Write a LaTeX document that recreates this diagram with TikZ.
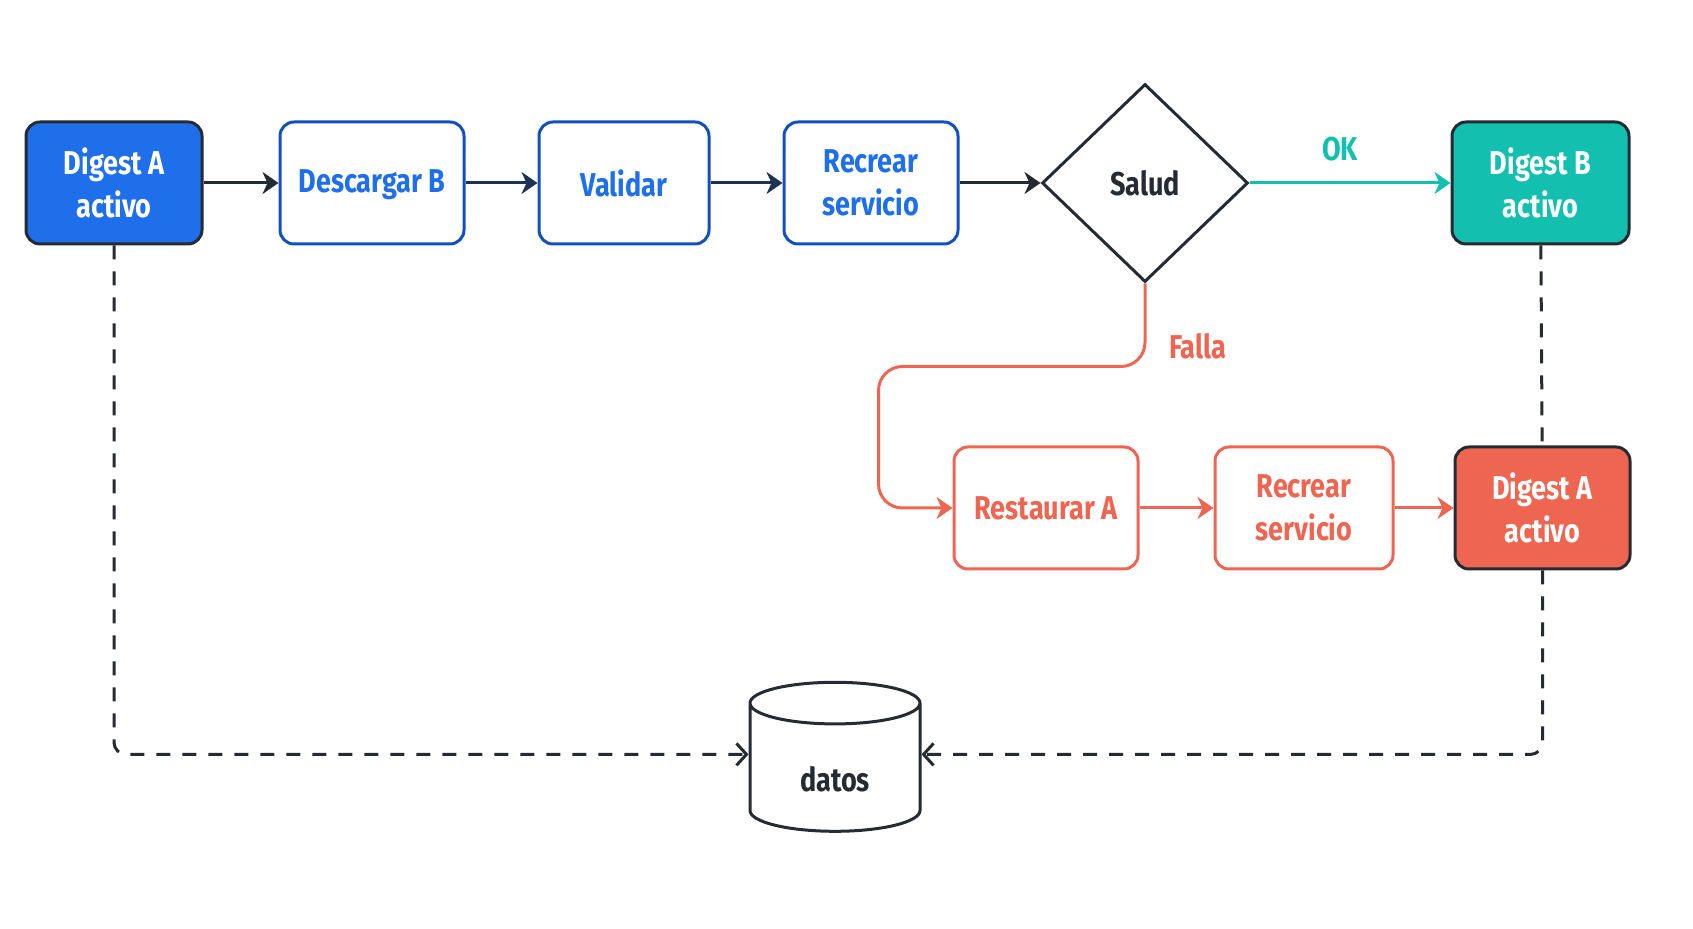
\documentclass[tikz,border=0pt]{standalone}
\usepackage{fontspec}
\setmainfont{Fira Sans}[FakeStretch=0.82]
\usetikzlibrary{arrows.meta,positioning,calc,shapes.geometric}
\definecolor{ink}{HTML}{252B33}
\definecolor{navy}{HTML}{1E3354}
\definecolor{azul}{HTML}{1F6FEB}
\definecolor{azulD}{HTML}{1250C0}
\definecolor{verde}{HTML}{13BFAF}
\definecolor{rojo}{HTML}{EE6651}

\begin{document}
\begin{tikzpicture}[node distance=37.5pt,>=Stealth,
font=\fontsize{16.5}{21.5}\selectfont\bfseries,
box/.style={draw,rounded corners=7pt,align=center,minimum height=61pt,line width=1.5pt,inner sep=2pt},
paso/.style={box,draw=azulD,text=azul,fill=white},
rpaso/.style={box,draw=rojo,text=rojo,fill=white},
flujo/.style={line width=1.5pt,draw=ink,-{Stealth[length=8pt,width=11pt,inset=2.5pt]}},
enlace/.style={line width=1.5pt,draw=ink,dash pattern=on 7pt off 6pt,rounded corners=6pt,-{Straight Barb[length=5pt,width=11pt]}}]
\useasboundingbox (0,0) rectangle (846.5pt,-464.5pt);
\node[box,fill=azul,draw=ink,text=white,minimum width=88pt] (dA) at (57pt,-91.5pt) {Digest A\\activo};
\node[paso,minimum width=92pt,right=37.5pt of dA,text depth=2pt] (desc) {Descargar B};
\node[paso,minimum width=85pt,right=36pt of desc] (val) {Validar};
\node[paso,minimum width=87pt,right=36pt of val] (rec) {Recrear\\servicio};
\node[diamond,draw=ink,line width=1.5pt,text=ink,minimum width=103pt,minimum height=99pt,inner sep=0pt,right=40.5pt of rec] (sal) {Salud};
\node[box,fill=verde,draw=ink,text=white,minimum width=88.5pt,right=100.5pt of sal] (dB) {Digest B\\activo};
\node[rpaso,minimum width=92pt] (rst) at (523pt,-254pt) {Restaurar A};
\node[rpaso,minimum width=89pt,right=37pt of rst] (rec2) {Recrear\\servicio};
\node[box,fill=rojo,draw=ink,text=white,minimum width=87.5pt,right=29.5pt of rec2] (dAr) {Digest A\\activo};
\node[cylinder,shape border rotate=90,aspect=0.5,draw=ink,line width=1.5pt,text=ink,minimum width=85pt,minimum height=74.5pt,text height=20pt,text depth=0pt] (datos) at (417.5pt,-386pt) {datos};
\draw[flujo] (dA) -- (desc);
\draw[flujo,draw=navy] (desc) -- (val);
\draw[flujo,draw=navy] (val) -- (rec);
\draw[flujo] (rec) -- (sal);
\draw[flujo,draw=verde] (sal) -- (dB) node[pos=0.45,above=7pt,text=verde] (ok) {OK};
\draw[flujo,draw=rojo,rounded corners=12pt] (sal.south) -- ++(0,-41.5pt) node[pos=0.76,right=8pt,text=rojo] (falla) {Falla} -| ([xshift=-37pt]rst.west) -- (rst.west);
\draw[flujo,draw=rojo] (rst) -- (rec2);
\draw[flujo,draw=rojo] (rec2) -- (dAr);
\draw[enlace] (dA.south) |- ([yshift=8.8pt]datos.west);
\draw[enlace,-] (dB) -- (dAr);
\draw[enlace] (dAr.south) |- ([yshift=8.8pt]datos.east);
\end{tikzpicture}
\end{document}
